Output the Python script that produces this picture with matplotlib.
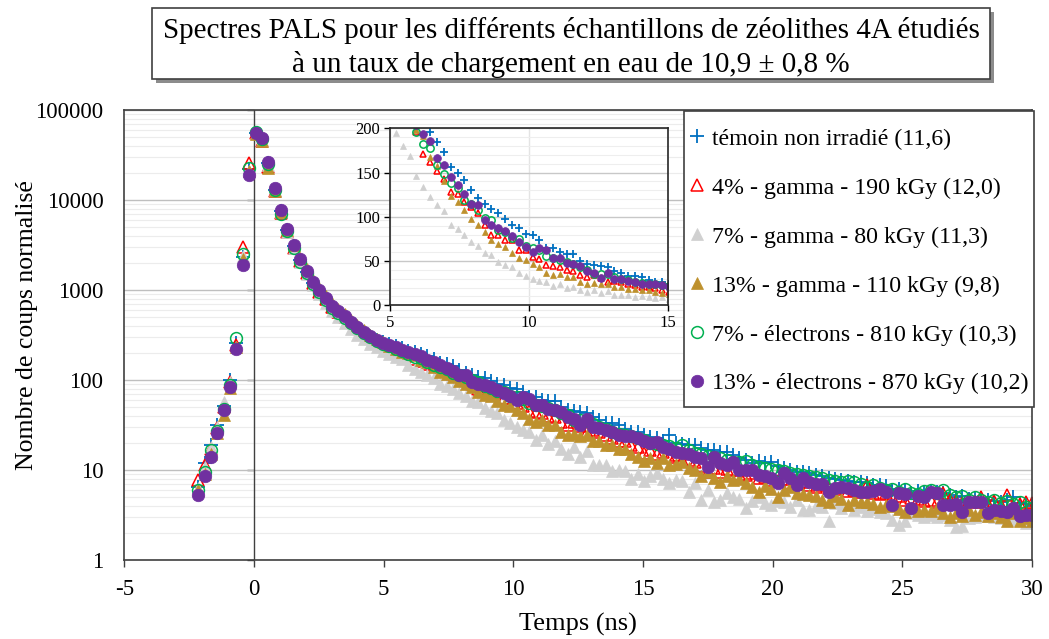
import matplotlib
matplotlib.use("Agg")
import matplotlib.pyplot as plt
from matplotlib.patches import Rectangle
from matplotlib.lines import Line2D
from matplotlib.ticker import LogLocator, NullLocator, FuncFormatter, MultipleLocator, FixedLocator

plt.rcParams['font.family'] = ['Liberation Serif', 'DejaVu Serif']
plt.rcParams['axes.unicode_minus'] = False

# ---------------- data ----------------
TIME_NS = [
    -2.15, -1.90, -1.66, -1.41, -1.17, -0.92, -0.68, -0.43, -0.18, 0.06,
    0.31, 0.55, 0.80, 1.04, 1.29, 1.53, 1.78, 2.03, 2.27, 2.52,
    2.76, 3.01, 3.25, 3.50, 3.74, 3.99, 4.23, 4.48, 4.73, 4.97,
    5.22, 5.46, 5.71, 5.95, 6.20, 6.44, 6.69, 6.93, 7.18, 7.43,
    7.67, 7.92, 8.16, 8.41, 8.65, 8.90, 9.14, 9.39, 9.64, 9.88,
    10.13, 10.37, 10.62, 10.86, 11.11, 11.35, 11.60, 11.85, 12.09, 12.34,
    12.58, 12.83, 13.07, 13.32, 13.56, 13.81, 14.06, 14.30, 14.55, 14.79,
    15.04, 15.28, 15.53, 15.77, 16.02, 16.26, 16.51, 16.76, 17.00, 17.25,
    17.49, 17.74, 17.98, 18.23, 18.47, 18.72, 18.97, 19.21, 19.46, 19.70,
    19.95, 20.19, 20.44, 20.68, 20.93, 21.18, 21.42, 21.67, 21.91, 22.16,
    22.40, 22.65, 22.89, 23.14, 23.39, 23.63, 23.88, 24.12, 24.37, 24.61,
    24.86, 25.10, 25.35, 25.60, 25.84, 26.09, 26.33, 26.58, 26.82, 27.07,
    27.31, 27.56, 27.81, 28.05, 28.30, 28.54, 28.79, 29.03, 29.28, 29.52,
    29.77, 30.01,
]

TEMOIN = [
    6.5, 12, 19, 31.6, 52, 100, 260, 2300, 22000, 56000,
    47000, 25500, 13000, 7600, 4650, 3100, 2150, 1600, 1210, 980,
    795, 655, 575, 508, 440, 388, 343, 308, 280, 262,
    250, 236, 224, 212, 205, 196, 185, 173, 156, 149,
    142, 130, 121, 114, 109, 104, 98, 91, 87, 81,
    79, 74, 65, 65, 60, 58.5, 58, 50, 47, 45,
    44, 43, 39, 36, 33, 33, 32, 28.3, 26.4, 26.4,
    24.6, 23, 22.5, 21, 24.5, 20, 19.5, 19, 19, 17.4,
    16.7, 16.5, 16, 16, 14.5, 13.5, 13, 11.9, 12.5, 12,
    12.4, 11, 10.5, 10, 9.6, 9.4, 9.2, 8.8, 8.6, 8.2,
    8.0, 7.8, 7.6, 7.4, 7.4, 7.1, 6.9, 6.8, 6.6, 6.0,
    6.2, 6.0, 5.6, 5.8, 5.6, 5.9, 5.7, 5.5, 5.3, 5.0,
    5.2, 4.8, 4.9, 4.7, 4.6, 4.5, 4.4, 4.6, 5.0, 4.3,
    4.2, 4.0,
]

GAMMA_4 = [
    7.7, 11.5, 17, 29, 50, 95, 245, 3000, 25600, 56000,
    44800, 23000, 12500, 7100, 4400, 2950, 2080, 1560, 1190, 960,
    785, 650, 570, 500, 436, 384, 336, 298, 268, 248,
    232, 217, 205, 196, 171, 162, 152, 143, 128, 126,
    117, 111, 104, 91, 80, 79, 74, 74, 63, 63,
    55, 52, 45, 44, 43, 40, 39, 34, 32, 34,
    31, 26.4, 27.6, 26.4, 24.6, 22.7, 20.8, 20.8, 19, 17.8,
    15.5, 16.5, 15, 16, 14, 14.5, 13, 12.8, 12.4, 11,
    9.6, 10.5, 9.6, 10.2, 10, 9, 8.8, 9.3, 8.2, 8.4,
    7.8, 7.5, 8.0, 7.2, 7.0, 7.4, 6.8, 6.5, 6.9, 6.3,
    6.2, 6.5, 5.9, 6.0, 5.7, 6.8, 5.6, 5.4, 5.5, 5.0,
    5.2, 4.6, 4.9, 4.8, 4.5, 4.7, 4.4, 5.5, 4.6, 4.5,
    4.3, 4.6, 4.4, 5.0, 4.2, 4.5, 4.1, 5.3, 4.0, 4.2,
    4.4, 4.3,
]

GAMMA_7 = [
    6.3, 10.9, 18.2, 30, 57, 95, 235, 2400, 21000, 55000,
    46000, 24500, 12800, 7300, 4450, 2950, 2050, 1520, 1140, 900,
    720, 590, 505, 435, 372, 320, 282, 252, 230, 210,
    195, 180, 169, 146, 134, 122, 113, 106, 91, 86,
    79, 72, 67, 59, 56.6, 49, 45, 43.4, 36, 33,
    30, 27.6, 26.5, 21.5, 24.6, 19.6, 20.8, 17, 15, 17.8,
    14, 16.2, 11.3, 11.3, 11.3, 9.8, 10, 9.8, 8, 9,
    7.5, 8.5, 9.2, 8.0, 7.1, 7.8, 7.5, 5.7, 7.1, 4.7,
    6.0, 4.4, 4.7, 5.6, 5.0, 4.8, 3.75, 4.5, 5.0, 4.3,
    4.1, 4.5, 4.4, 3.9, 4.6, 3.6, 3.6, 4.0, 3.9, 2.7,
    4.3, 3.8, 4.1, 3.6, 3.9, 3.5, 3.7, 3.4, 3.3, 2.78,
    2.45, 2.7, 3.3, 3.2, 3.0, 3.16, 3.0, 3.2, 2.8, 2.3,
    2.4, 2.9, 3.0, 3.1, 3.2, 3.0, 2.9, 3.0, 2.8, 3.0,
    2.6, 2.7,
]

GAMMA_13 = [
    6, 9, 15, 26, 41, 81, 230, 2200, 21000, 54000,
    44800, 22500, 12500, 7300, 4600, 3150, 2250, 1700, 1300, 1050,
    860, 710, 620, 545, 470, 410, 360, 320, 285, 262,
    240, 220, 205, 198, 191, 168, 157, 140, 123, 117,
    108, 98, 91, 83, 74, 69, 66, 59, 53, 51,
    46.5, 43.4, 36.6, 34, 35.9, 32, 32, 26.4, 24.6, 25.3,
    23.8, 24.6, 20.8, 20.8, 18.9, 18.9, 17, 17, 15.1, 14,
    12.5, 13.5, 12, 13.5, 11.5, 11.8, 12.2, 10.5, 10.0, 8.5,
    9.5, 8.2, 7.4, 8.6, 7.7, 7.9, 7.1, 6.5, 5.7, 6.6,
    6.2, 5.0, 6.0, 6.4, 5.6, 5.4, 5.3, 5.1, 4.7, 4.4,
    5.2, 4.8, 4.1, 4.6, 4.4, 4.4, 4.2, 3.9, 4.1, 4.0,
    3.7, 3.4, 3.8, 3.5, 3.6, 3.5, 3.8, 3.3, 3.0, 3.3,
    3.1, 3.6, 3.2, 3.4, 3.1, 3.3, 3.0, 2.7, 3.3, 2.7,
    2.9, 2.7,
]

ELEC_7 = [
    6.0, 9.6, 16.7, 26.8, 48, 88, 294, 2500, 22500, 57000,
    47500, 25000, 12800, 6950, 4470, 2950, 2070, 1550, 1170, 950,
    770, 635, 560, 490, 425, 375, 332, 298, 272, 252,
    238, 222, 210, 196, 182, 177.5, 158.6, 148.4, 138.6, 132,
    119, 114, 108, 99, 96, 85, 82.5, 75.5, 74.4, 67,
    65, 62, 55.5, 53, 51.7, 49, 46.5, 43.4, 40.4, 35.9,
    35.9, 35.1, 32.1, 30.2, 28.3, 26.4, 25.3, 24.6, 23.8, 22.7,
    21.5, 20, 19.5, 19, 18.5, 17.5, 19, 16.5, 15.5, 15,
    14.2, 14, 13.5, 12.8, 12.4, 12.2, 12.5, 11.5, 10.8, 10.4,
    10.2, 10, 9.8, 9.2, 9.0, 8.8, 8.6, 8.4, 8.2, 7.8,
    7.6, 7.4, 7.5, 7.4, 7.0, 6.5, 6.9, 6.3, 6.0, 6.2,
    5.7, 6.1, 5.5, 5.4, 5.8, 6.0, 5.6, 6.0, 5.3, 5.0,
    5.2, 4.7, 5.0, 4.6, 4.4, 4.7, 4.3, 4.5, 4.2, 4.4,
    3.9, 3.8,
]

ELEC_13 = [
    5.3, 8.6, 14.1, 25.8, 46, 84, 221, 1910, 19000, 55500,
    49200, 26400, 13600, 7740, 4760, 3160, 2200, 1640, 1240, 1000,
    810, 664, 584, 514, 444, 391, 344, 308, 278, 260,
    245, 230, 216, 204, 194, 186, 167, 159, 145, 136,
    126, 114, 113, 96, 91, 87, 84, 78, 71, 66,
    60, 65, 62, 53, 53, 48, 46.5, 44, 39, 37,
    31.3, 37, 30.2, 29.5, 27.6, 26.4, 24.6, 24, 24, 22.7,
    20.8, 20, 20.5, 18, 17, 16, 15.3, 15, 14.1, 13.5,
    10.9, 13.9, 11.9, 11.5, 12.4, 10.0, 10.0, 10.0, 8.8, 8.6,
    8.1, 7.1, 9.2, 8.1, 6.8, 8.1, 7.4, 7.0, 7.0, 5.7,
    6.3, 6.5, 6.3, 6.0, 5.7, 5.7, 5.9, 6.1, 5.7, 4.1,
    5.5, 5.4, 3.8, 5.2, 5.0, 5.7, 5.5, 4.1, 4.1, 4.2,
    3.4, 4.4, 4.4, 4.4, 3.3, 3.6, 3.5, 3.4, 3.8, 3.1,
    3.2, 3.2,
]

SERIES_LABELS = [
    "témoin non irradié (11,6)",
    "4% - gamma - 190 kGy (12,0)",
    "7% - gamma - 80 kGy (11,3)",
    "13% - gamma - 110 kGy (9,8)",
    "7% - électrons - 810 kGy (10,3)",
    "13% - électrons - 870 kGy (10,2)",
]
TITLE_LINES = [
    "Spectres PALS pour les différents échantillons de zéolithes 4A étudiés",
    "à un taux de chargement en eau de 10,9 ± 0,8 %",
]
Y_TICKS = [1, 10, 100, 1000, 10000, 100000]
X_TICKS = [-5, 0, 5, 10, 15, 20, 25, 30]
INSET_Y_TICKS = [0, 50, 100, 150, 200]
INSET_X_TICKS = [5, 10, 15]

SERIES = [TEMOIN, GAMMA_4, GAMMA_7, GAMMA_13, ELEC_7, ELEC_13]

# ---------------- styles ----------------
BLUE, RED, GREY, GOLD, GREEN, PURPLE = "#0070C0", "#FF0000", "#D0D0D0", "#BE912D", "#00B050", "#7030A0"
STYLES = [
    dict(marker="+", color=BLUE, mew=1.3, size=9.5),
    dict(marker="^", color=RED, mfc="none", mew=1.1, size=8),
    dict(marker="^", color=GREY, mfc=GREY, mew=0.5, size=8),
    dict(marker="^", color=GOLD, mfc=GOLD, mew=0.5, size=8),
    dict(marker="o", color=GREEN, mfc="none", mew=1.1, size=8.5),
    dict(marker="o", color=PURPLE, mfc=PURPLE, mew=0.5, size=9),
]


def draw_series(axis, scale):
    for vals, st in zip(SERIES, STYLES):
        kw = dict(linestyle="none", marker=st["marker"], color=st["color"],
                  mec=st["color"], mew=st["mew"], ms=st["size"] * scale, zorder=2)
        if "mfc" in st:
            kw["mfc"] = st["mfc"]
        axis.plot(TIME_NS, vals, **kw)


W, H = 1049, 639
fig = plt.figure(figsize=(W / 100, H / 100), dpi=100)
fig.patch.set_facecolor("white")

FRAME = "#404040"

# ---------------- main axes ----------------
ax = fig.add_axes([124.3 / W, 1 - 560 / H, (1032 - 124.3) / W, 450 / H])
ax.set_yscale("log")
ax.set_xlim(-5, 30)
ax.set_ylim(1, 100000)
ax.axvline(0, color=FRAME, lw=1.0, zorder=1)
draw_series(ax, 1.0)

ax.yaxis.set_major_locator(FixedLocator(Y_TICKS))
ax.yaxis.set_minor_locator(LogLocator(base=10, subs=range(2, 10), numticks=20))
ax.yaxis.set_major_formatter(FuncFormatter(lambda v, p: f"{int(round(v))}"))
ax.set_xticks(X_TICKS)
ax.grid(which="major", axis="y", color="#BFBFBF", lw=1.0)
ax.grid(which="minor", axis="y", color="#ECECEC", lw=0.8)
ax.set_axisbelow(True)
ax.tick_params(axis="y", which="both", length=0, pad=15, labelsize=16.5)
ax.tick_params(axis="x", which="major", length=5, width=1.0, color=FRAME,
               direction="out", pad=9, labelsize=16.5)
ax.tick_params(axis="x", which="minor", length=0)
for s in ax.spines.values():
    s.set_color(FRAME)
    s.set_linewidth(1.2)

# tick marks of the vertical axis drawn at x = 0
sec = ax.secondary_yaxis(5 / 35)
sec.yaxis.set_major_locator(FixedLocator(Y_TICKS))
sec.yaxis.set_minor_locator(NullLocator())
sec.tick_params(axis="y", which="major", length=5, width=1.0, color=FRAME,
                direction="out", labelleft=False)
sec.spines["left"].set_visible(False)

ax.set_xlabel("Temps (ns)", fontsize=19, labelpad=9)
fig.text(27 / W, 1 - 325 / H, "Nombre de coups normalisé", rotation=90,
         ha="center", va="center", fontsize=18.5)

# ---------------- inset ----------------
axin = fig.add_axes([390 / W, 1 - 305.3 / H, 278 / W, 177 / H])
axin.set_xlim(5, 15)
axin.set_ylim(0, 200)
draw_series(axin, 0.62)
axin.set_xticks(INSET_X_TICKS)
axin.set_yticks(INSET_Y_TICKS)
axin.yaxis.set_minor_locator(MultipleLocator(10))
axin.grid(which="major", axis="y", color="#C8C8C8", lw=1.0)
axin.grid(which="minor", axis="y", color="#EEEEEE", lw=0.8)
axin.grid(which="major", axis="x", color="#E4E4E4", lw=1.0)
axin.set_axisbelow(True)
axin.tick_params(which="major", length=4, width=1.0, direction="out", labelsize=12, pad=3)
axin.tick_params(which="minor", length=0)
for s in axin.spines.values():
    s.set_color("#262626")
    s.set_linewidth(1.2)

# ---------------- legend ----------------
leg_box = Rectangle((684 / W, 1 - 407 / H), 350 / W, 296 / H, transform=fig.transFigure,
                    fc="white", ec=FRAME, lw=1.2, zorder=3)
fig.add_artist(leg_box)
handles = []
for st in STYLES:
    kw = dict(linestyle="none", marker=st["marker"], color=st["color"],
              mec=st["color"], mew=st["mew"], ms=st["size"])
    if "mfc" in st:
        kw["mfc"] = st["mfc"]
    handles.append(Line2D([], [], **kw))
leg = fig.legend(handles, SERIES_LABELS, loc="upper left",
                 bbox_to_anchor=(688 / W, 1 - 128 / H), frameon=False,
                 borderpad=0, borderaxespad=0, handlelength=0.75,
                 handletextpad=0.25, labelspacing=1.14, fontsize=17.2)
leg.set_zorder(6)

# ---------------- title box ----------------
shadow = Rectangle((156 / W, 1 - 83 / H), 838 / W, 71 / H, transform=fig.transFigure,
                   fc="#8C8C8C", ec="none", zorder=3)
fig.add_artist(shadow)
tbox = Rectangle((152 / W, 1 - 79 / H), 838 / W, 71 / H, transform=fig.transFigure,
                 fc="white", ec="#404040", lw=1.2, zorder=4)
fig.add_artist(tbox)
fig.text(571 / W, 1 - 31 / H, TITLE_LINES[0], ha="center", va="center", fontsize=21, zorder=7)
fig.text(571 / W, 1 - 64 / H, TITLE_LINES[1], ha="center", va="center", fontsize=21, zorder=7)

fig.savefig("out.png", dpi=100)
